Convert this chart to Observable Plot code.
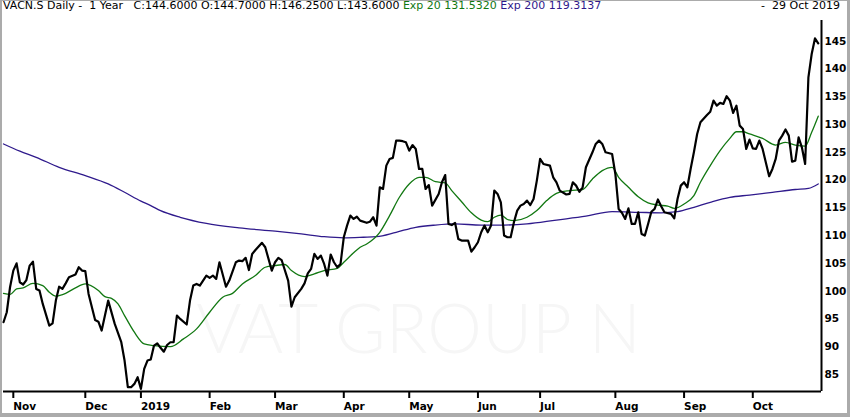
<!DOCTYPE html>
<html><head><meta charset="utf-8">
<script src="https://cdn.jsdelivr.net/npm/d3@7"></script>
<script src="https://cdn.jsdelivr.net/npm/@observablehq/plot@0.6"></script>
<style>
html,body{margin:0;padding:0;background:#fff;}
#wrap{position:relative;width:850px;height:417px;overflow:hidden;background:#fff;font-family:"DejaVu Sans",sans-serif;}
#hdr{position:relative;height:20px;font-size:11px;line-height:12px;color:#000;white-space:pre;}
#hdrL{position:absolute;left:3px;top:0;}
#hdrR{position:absolute;right:10px;top:0;}
#chart svg{display:block;}
#border{position:absolute;left:0;top:0;width:850px;height:417px;box-sizing:border-box;border-style:solid;border-color:#ababab;border-width:1px 3px 4px 2px;pointer-events:none;}
</style></head>
<body><div id="wrap"><div id="hdr"><span id="hdrL"></span><span id="hdrR"></span></div><div id="chart"></div><div id="border"></div></div>
<script>
// ---- data (trading-day index, value) ----
const closePts = [[0,94.4],[1,96.2],[2,100.7],[3,103.7],[4,105],[5,101.6],[6,101.2],[7,102],[8,104.6],[9,105.3],[10,100.4],[11,100.1],[12,97.7],[14,93.8],[15,94.2],[16,98.3],[17,100.8],[18,100.4],[19,101.4],[20,102.5],[22,103],[23,104.3],[24,103.7],[25,103.6],[26,99.5],[28,94.8],[29,94.5],[30,92.9],[32,98.3],[34,94.1],[36,90.8],[37,87.5],[38,82.7],[39,82.7],[40,83.3],[41,84.5],[42,82.4],[43,86],[44,87.5],[45,87.7],[46,90.2],[47,90.6],[48,89.8],[49,89.1],[50,90.3],[51,90.8],[52,90.8],[53,95.6],[54,95],[56,94],[57,98.3],[58,101],[59,101.3],[60,101],[62,102.8],[63,102.4],[64,102.8],[65,102.2],[66,105.2],[68,100.8],[69,101.9],[71,105.2],[72,105.5],[73,105.4],[74,106],[75,103.8],[76,106.7],[77,107.4],[79,108.7],[80,107.9],[82,103.7],[83,105.2],[84,106],[85,105.6],[87,101.9],[88,97.2],[89,98.9],[91,100.4],[92,101.4],[93,103.2],[94,104],[95,106.7],[96,105.8],[97,106.4],[98,104.9],[99,102.8],[100,106.6],[101,105.2],[102,104.3],[103,104.9],[104,109.7],[105,111.8],[106,113.6],[107,113],[108,113.4],[109,112.7],[111,112.3],[112,112.5],[113,113.3],[114,111.8],[115,118.7],[116,118.4],[117,122.6],[118,123.8],[119,124],[120,127.1],[121,127.1],[122,127],[123,126.8],[124,125.3],[125,126.3],[126,125.6],[127,122],[128,122],[129,118.4],[130,119.1],[131,115.4],[133,117.5],[134,119.6],[135,120.9],[136,112.1],[137,111.9],[138,112.3],[139,109.4],[140,109.1],[142,109.1],[143,107.1],[144,107.9],[145,108.8],[146,110.6],[147,111.8],[148,110.6],[149,111.8],[150,118.1],[151,117.5],[152,116],[153,110],[154,109.7],[155,109.7],[156,112.4],[157,114.5],[158,115.4],[159,115.7],[160,116.3],[161,115.5],[162,116.6],[163,119.9],[164,123.8],[165,122.9],[167,122.6],[168,120.5],[169,119.6],[170,118.1],[172,117.4],[173,117.5],[174,119.6],[175,119],[176,117.9],[177,118.7],[178,122.3],[180,125],[181,126.5],[182,127.1],[183,126.5],[184,125],[186,124.7],[187,121.1],[188,114.8],[189,114.1],[190,113],[191,114.9],[192,112.1],[193,112.1],[194,114.2],[195,110.3],[196,110],[197,112.1],[198,114.3],[199,114.8],[200,116.5],[201,115.3],[202,114.2],[204,113.9],[205,113.1],[206,116.6],[207,119],[208,119.6],[209,118.7],[210,122],[211,125],[212,128.3],[213,130.4],[215,131.7],[216,132.3],[217,134.3],[218,133.4],[219,133.9],[220,133.7],[221,135.1],[222,134.3],[223,132.1],[224,133.4],[225,129.8],[226,129.2],[227,125.6],[228,127.3],[229,125.7],[230,125.6],[231,127.1],[232,125.6],[234,120.7],[235,122],[236,123.8],[237,127.1],[238,128],[239,129.1],[240,128],[241,123.3],[242,123.5],[243,127.7],[244,125.9],[245,122.9],[246,138.5],[247,142.7],[248,145.5],[249,144.6]];

const ema20Pts = [[0,99.6],[2,99.4],[4,100.4],[6,100.6],[9,101.4],[12,101],[14,99.8],[16,99.1],[19,99.6],[22,100.6],[25,101.3],[29,100.1],[31,99],[33,98.7],[35,97.7],[37,95.6],[40,92.6],[43,90.5],[46,90.2],[51,90],[55,91.4],[59,93.2],[63,96.2],[67,98.9],[70,99.6],[73,101.3],[77,102.8],[80,104.3],[83,104.6],[86,104.8],[88,103.7],[92,102.6],[95,103.1],[98,103.7],[102,104.1],[104,105.2],[107,106.9],[109,107.9],[111,108.5],[115,110.6],[118,113.6],[121,116.9],[124,119.3],[127,120.5],[129,120.5],[132,119.7],[135,119.5],[137,118.1],[140,116.1],[143,114.1],[146,112.8],[148,112.5],[150,113.3],[152,113.7],[154,112.9],[156,112.7],[160,113.3],[163,114.5],[166,116.3],[169,117.6],[173,118.1],[177,118.3],[180,120.2],[183,121.7],[186,122.3],[188,120.5],[191,118.7],[194,117],[197,115.9],[200,115.5],[203,115.3],[205,114.9],[208,115.7],[211,117.2],[213,119.6],[216,122.6],[219,125.3],[222,127.5],[224,128.7],[226,128.7],[228,128.3],[232,127.5],[236,126.3],[239,126.8],[242,126.3],[245,126.1],[247,128.6],[249,131.5]];

const ema200Pts = [[0,126.5],[5,125.2],[10,124.1],[17,122.3],[25,120.8],[32,119.3],[37,117.8],[42,116.2],[45,115.4],[48,114.5],[54,113.3],[62,112.2],[72,111.4],[83,110.8],[91,110.3],[98,109.8],[104,109.6],[110,109.7],[114,109.8],[120,110.6],[126,111.5],[132,111.9],[138,112.1],[146,111.9],[153,111.9],[160,112.1],[169,112.8],[178,113.5],[186,114.3],[194,114.2],[201,114.1],[206,114.3],[211,115.1],[216,116],[222,116.9],[228,117.3],[235,117.8],[242,118.3],[246,118.5],[249,119.3]];

const monthDays = [3,25,42,63,83,104,124,145,164,187,208,229];
const monthLabels = ["Nov","Dec","2019","Feb","Mar","Apr","May","Jun","Jul","Aug","Sep","Oct"];
const yTicks = [85,90,95,100,105,110,115,120,125,130,135,140,145];
const xDomain = [0, 250];
const yDomain = [81.93, 148.73];

const headerMain = "VACN.S Daily -  1 Year   C:144.6000 O:144.7000 H:146.2500 L:143.6000 ";
const headerEma20 = "Exp 20 131.5320";
const headerEma200 = "Exp 200 119.3137";
const headerDate = "-  29 Oct 2019";
const watermark = ["VAT GROUP N"];

const GREEN = "#127812";
const PURPLE = "#2f1a8c";

// header
const hl = document.getElementById("hdrL");
hl.append(document.createTextNode(headerMain));
const s1 = document.createElement("span"); s1.style.color = GREEN; s1.textContent = headerEma20; hl.append(s1);
hl.append(document.createTextNode(" "));
const s2 = document.createElement("span"); s2.style.color = PURPLE; s2.textContent = headerEma200; hl.append(s2);
document.getElementById("hdrR").textContent = headerDate;

const toObj = (arr) => arr.map(([day, value]) => ({day, value}));

const chart = Plot.plot({
  width: 850, height: 397,
  marginTop: 0, marginBottom: 26, marginLeft: 3, marginRight: 29,
  x: {domain: xDomain, axis: null},
  y: {domain: yDomain, axis: null},
  style: {fontFamily: "DejaVu Sans, sans-serif", background: "transparent", overflow: "visible", color: "#000"},
  marks: [
    Plot.text(watermark, {text: d => d, frameAnchor: "middle", dx: 6, dy: 125, fontSize: 69, fontFamily: "Lato", fontWeight: 300, fill: "#f6f6f6"}),
    Plot.line(toObj(ema200Pts), {x: "day", y: "value", stroke: PURPLE, strokeWidth: 1.3, curve: "monotone-x"}),
    Plot.line(toObj(ema20Pts), {x: "day", y: "value", stroke: GREEN, strokeWidth: 1.3, curve: "monotone-x"}),
    Plot.line(toObj(closePts), {x: "day", y: "value", stroke: "#000", strokeWidth: 2.2, strokeLinejoin: "round"}),
    Plot.ruleY([yDomain[0]], {stroke: "#000", strokeWidth: 2}),
    Plot.ruleX([xDomain[1]], {stroke: "#000", strokeWidth: 2}),
    Plot.axisX({ticks: monthDays, tickFormat: d => monthLabels[monthDays.indexOf(d)], tickSize: 7, tickPadding: 4, textAnchor: "start", fontSize: 10.5, fontWeight: "bold", strokeWidth: 2, label: null}),
    Plot.axisY({anchor: "right", ticks: yTicks, tickSize: 0, tickPadding: 3, textAnchor: "start", fontSize: 10.5, fontWeight: "bold", tickFormat: d => String(d), label: null})
  ]
});
document.getElementById("chart").append(chart);
</script>
</body></html>
